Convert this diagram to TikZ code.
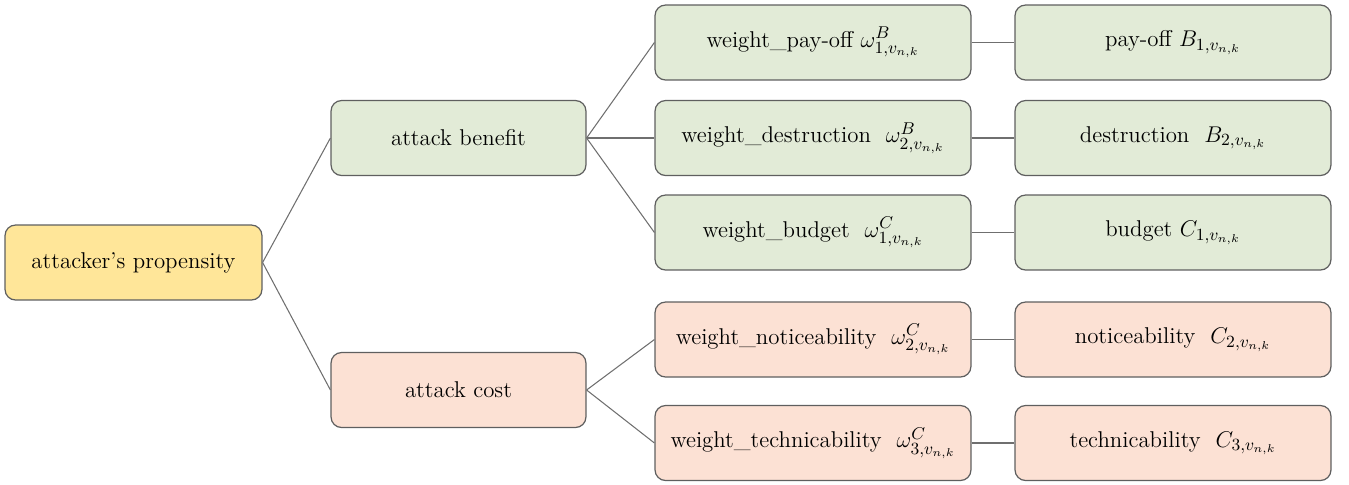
\documentclass[tikz,border=0pt]{standalone}
\usepackage{amsmath,amssymb}
\usepackage{graphicx}
\usepackage{tikz}

\definecolor{propfill}{HTML}{FFE699}
\definecolor{benfill}{HTML}{E2EBD7}
\definecolor{costfill}{HTML}{FCE1D4}
\definecolor{edgegray}{HTML}{5F5F5F}
\definecolor{linkgray}{HTML}{6F6F6F}
\newcommand{\wsym}[2]{\scalebox{1.08}{$\omega^{#1}_{#2,v_{n,k}}$}}
\newcommand{\fsym}[2]{\scalebox{1.08}{$#1_{#2,v_{n,k}}$}}

\begin{document}
\begin{tikzpicture}[x=0.02cm,y=-0.02cm,
  box/.style={draw=edgegray, line width=0.7pt, rounded corners=6pt, inner sep=0pt,
    minimum height=1.5cm, font=\fontsize{13}{15.5}\selectfont},
  wbox/.style={box, minimum width=6.32cm},
  link/.style={linkgray, line width=0.6pt}]
  \useasboundingbox (0,0) rectangle (1349,484);
  % root and the two branches
  \node[box, fill=propfill, minimum width=5.14cm] (prop) at (133.5,262.5) {attacker’s propensity};
  \node[box, fill=benfill, minimum width=5.1cm] (benefit) at (458.5,138) {attack benefit};
  \node[box, fill=costfill, minimum width=5.1cm] (cost) at (458.5,390) {attack cost};
  % weights
  \node[wbox, fill=benfill] (wpay) at (813,42.5) {weight\_pay-off \wsym{B}{1}};
  \node[wbox, fill=benfill] (wdes) at (813,138) {weight\_destruction\ \ \wsym{B}{2}};
  \node[wbox, fill=benfill] (wbud) at (813,232.5) {weight\_budget\ \ \wsym{C}{1}};
  \node[wbox, fill=costfill] (wnot) at (813,339.5) {weight\_noticeability\ \ \wsym{C}{2}};
  \node[wbox, fill=costfill] (wtec) at (813,443) {weight\_technicability\ \ \wsym{C}{3}};
  % factors
  \node[wbox, fill=benfill] (pay) at (1173,42.5) {pay-off \fsym{B}{1}};
  \node[wbox, fill=benfill] (des) at (1173,138) {destruction\ \ \fsym{B}{2}};
  \node[wbox, fill=benfill] (bud) at (1173,232.5) {budget \fsym{C}{1}};
  \node[wbox, fill=costfill] (not) at (1173,339.5) {noticeability\ \ \fsym{C}{2}};
  \node[wbox, fill=costfill] (tec) at (1173,443) {technicability\ \ \fsym{C}{3}};
  % connectors
  \draw[link] (prop.east) -- (benefit.west);
  \draw[link] (prop.east) -- (cost.west);
  \draw[link] (benefit.east) -- (wpay.west);
  \draw[link] (benefit.east) -- (wdes.west);
  \draw[link] (benefit.east) -- (wbud.west);
  \draw[link] (cost.east) -- (wnot.west);
  \draw[link] (cost.east) -- (wtec.west);
  \draw[link] (wpay) -- (pay);
  \draw[link] (wdes) -- (des);
  \draw[link] (wbud) -- (bud);
  \draw[link] (wnot) -- (not);
  \draw[link] (wtec) -- (tec);
\end{tikzpicture}
\end{document}
